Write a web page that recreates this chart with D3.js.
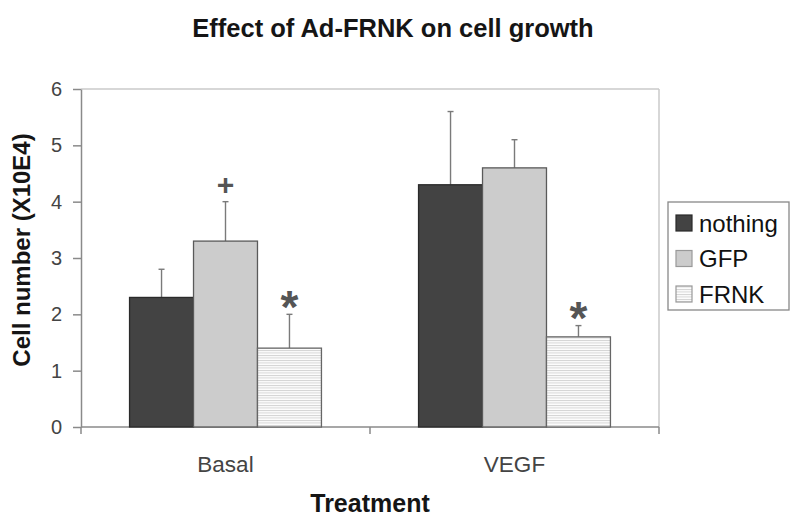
<!DOCTYPE html>
<html>
<head>
<meta charset="utf-8">
<script src="https://cdn.jsdelivr.net/npm/d3@7"></script>
<style>
  html, body { margin: 0; padding: 0; background: #fff; }
  svg { display: block; font-family: "Liberation Sans", Arial, sans-serif; }
</style>
</head>
<body>
<svg id="chart" width="800" height="525"></svg>
<script>
// ---- data ----
const categories = ["Basal", "VEGF"];
const series = ["nothing", "GFP", "FRNK"];
const nothingValues = [2.3, 4.3];
const gfpValues = [3.3, 4.6];
const frnkValues = [1.4, 1.6];
const nothingErrors = [0.5, 1.3];
const gfpErrors = [0.7, 0.5];
const frnkErrors = [0.6, 0.2];
const nothingMarks = ["", ""];
const gfpMarks = ["+", ""];
const frnkMarks = ["*", "*"];
const yTicks = [0, 1, 2, 3, 4, 5, 6];
const titleText = "Effect of Ad-FRNK on cell growth";
const xTitle = "Treatment";
const yTitle = "Cell number (X10E4)";

const seriesTable = [
  { name: "nothing", values: nothingValues, errors: nothingErrors, marks: nothingMarks },
  { name: "GFP", values: gfpValues, errors: gfpErrors, marks: gfpMarks },
  { name: "FRNK", values: frnkValues, errors: frnkErrors, marks: frnkMarks }
];

// ---- layout ----
const mLeft = 81, mRight = 659, mTop = 89, mBottom = 427;
const svg = d3.select("#chart");

const defs = svg.append("defs");
const pat = defs.append("pattern").attr("id", "hatch").attr("patternUnits", "userSpaceOnUse")
  .attr("width", 6).attr("height", 2.5);
pat.append("rect").attr("width", 6).attr("height", 2.5).attr("fill", "#fcfcfc");
pat.append("rect").attr("y", 0).attr("width", 6).attr("height", 0.9).attr("fill", "#d2d2d2");

const fills = { nothing: "#434343", GFP: "#cccccc", FRNK: "url(#hatch)" };
const strokes = { nothing: "#2a2a2a", GFP: "#5a5a5a", FRNK: "#666" };

const y = d3.scaleLinear().domain([0, 6]).range([mBottom, mTop]);
const x0 = d3.scaleBand().domain(categories).range([mLeft, mRight]).paddingInner(0.336).paddingOuter(0.168);
const x1 = d3.scaleBand().domain(series).range([0, x0.bandwidth()]);

// title
svg.append("text").attr("x", 393).attr("y", 37).attr("text-anchor", "middle")
  .attr("font-size", 25.5).attr("font-weight", "bold").attr("fill", "#151515").text(titleText);

// plot frame (top & right light)
svg.append("line").attr("x1", mLeft).attr("x2", mRight).attr("y1", mTop).attr("y2", mTop)
  .attr("stroke", "#cacaca").attr("stroke-width", 1.5);
svg.append("line").attr("x1", mRight).attr("x2", mRight).attr("y1", mTop).attr("y2", mBottom)
  .attr("stroke", "#cacaca").attr("stroke-width", 1.5);

// y axis
const yAxis = svg.append("g").attr("transform", `translate(${mLeft},0)`)
  .call(d3.axisLeft(y).tickValues(yTicks).tickFormat(d3.format("d")).tickSize(8).tickSizeOuter(0));
yAxis.select(".domain").attr("stroke", "#8a8a8a").attr("stroke-width", 1.5);
yAxis.selectAll(".tick line").attr("stroke", "#8a8a8a").attr("stroke-width", 1.5);
yAxis.selectAll(".tick text").attr("font-size", 20).attr("fill", "#444")
  .attr("font-family", "'Liberation Sans', Arial, sans-serif").attr("x", -19);

// x axis
const xAxisG = svg.append("g").attr("transform", `translate(0,${mBottom})`);
xAxisG.append("line").attr("x1", mLeft).attr("x2", mRight).attr("stroke", "#8a8a8a").attr("stroke-width", 1.5);
const bnd = [x0.range()[0], (x0(categories[0]) + x0(categories[1]) + x0.bandwidth()) / 2, x0.range()[1]];
xAxisG.selectAll("line.tk").data(bnd).join("line").attr("class", "tk")
  .attr("x1", d => d).attr("x2", d => d).attr("y1", 0).attr("y2", 7)
  .attr("stroke", "#8a8a8a").attr("stroke-width", 1.5);
xAxisG.selectAll("text.cat").data(categories).join("text").attr("class", "cat")
  .attr("x", d => x0(d) + x0.bandwidth() / 2).attr("y", 45).attr("text-anchor", "middle")
  .attr("font-size", 22.5).attr("fill", "#444").text(d => d);

// axis titles
svg.append("text").attr("x", 370).attr("y", 512).attr("text-anchor", "middle")
  .attr("font-size", 25).attr("font-weight", "bold").attr("fill", "#151515").text(xTitle);
svg.append("text").attr("transform", "translate(30,250) rotate(-90)").attr("text-anchor", "middle")
  .attr("font-size", 24).attr("font-weight", "bold").attr("fill", "#151515").text(yTitle);

// bars
const groups = svg.append("g").selectAll("g").data(seriesTable).join("g");
const cells = groups.selectAll("g.cell")
  .data(s => categories.map((c, i) => ({ cat: c, name: s.name, v: s.values[i], e: s.errors[i], m: s.marks[i] })))
  .join("g").attr("class", "cell");

cells.append("line")
  .attr("x1", d => x0(d.cat) + x1(d.name) + x1.bandwidth() / 2)
  .attr("x2", d => x0(d.cat) + x1(d.name) + x1.bandwidth() / 2)
  .attr("y1", d => y(d.v)).attr("y2", d => y(d.v + d.e))
  .attr("stroke", "#7a7a7a").attr("stroke-width", 1.4);
cells.append("line")
  .attr("x1", d => x0(d.cat) + x1(d.name) + x1.bandwidth() / 2 - 3)
  .attr("x2", d => x0(d.cat) + x1(d.name) + x1.bandwidth() / 2 + 3)
  .attr("y1", d => y(d.v + d.e)).attr("y2", d => y(d.v + d.e))
  .attr("stroke", "#7a7a7a").attr("stroke-width", 1.4);

cells.append("rect")
  .attr("x", d => x0(d.cat) + x1(d.name))
  .attr("y", d => y(d.v))
  .attr("width", x1.bandwidth())
  .attr("height", d => y(0) - y(d.v))
  .attr("fill", d => fills[d.name])
  .attr("stroke", d => strokes[d.name]).attr("stroke-width", 1.3);

// significance marks
cells.filter(d => d.m).append("text")
  .attr("x", d => x0(d.cat) + x1(d.name) + x1.bandwidth() / 2)
  .attr("y", d => y(d.v + d.e) - 17)
  .attr("dy", d => d.m === "*" ? "0.55em" : "0.36em")
  .attr("text-anchor", "middle")
  .attr("font-size", d => d.m === "*" ? 46 : 30)
  .attr("font-weight", "bold").attr("fill", "#555").text(d => d.m);

// legend
const lg = svg.append("g");
lg.append("rect").attr("x", 668).attr("y", 202).attr("width", 121).attr("height", 108)
  .attr("fill", "#fff").attr("stroke", "#888").attr("stroke-width", 1.3);
const li = lg.selectAll("g.li").data(series).join("g").attr("class", "li")
  .attr("transform", (d, i) => `translate(676,${223 + i * 35.5})`);
li.append("rect").attr("x", 0).attr("y", -8).attr("width", 16).attr("height", 16)
  .attr("fill", d => fills[d]).attr("stroke", d => d === "nothing" ? "#2a2a2a" : "#999").attr("stroke-width", 1.2);
li.append("text").attr("x", 23).attr("y", 8.5).attr("font-size", 24).attr("fill", "#111").text(d => d);
</script>
</body>
</html>
